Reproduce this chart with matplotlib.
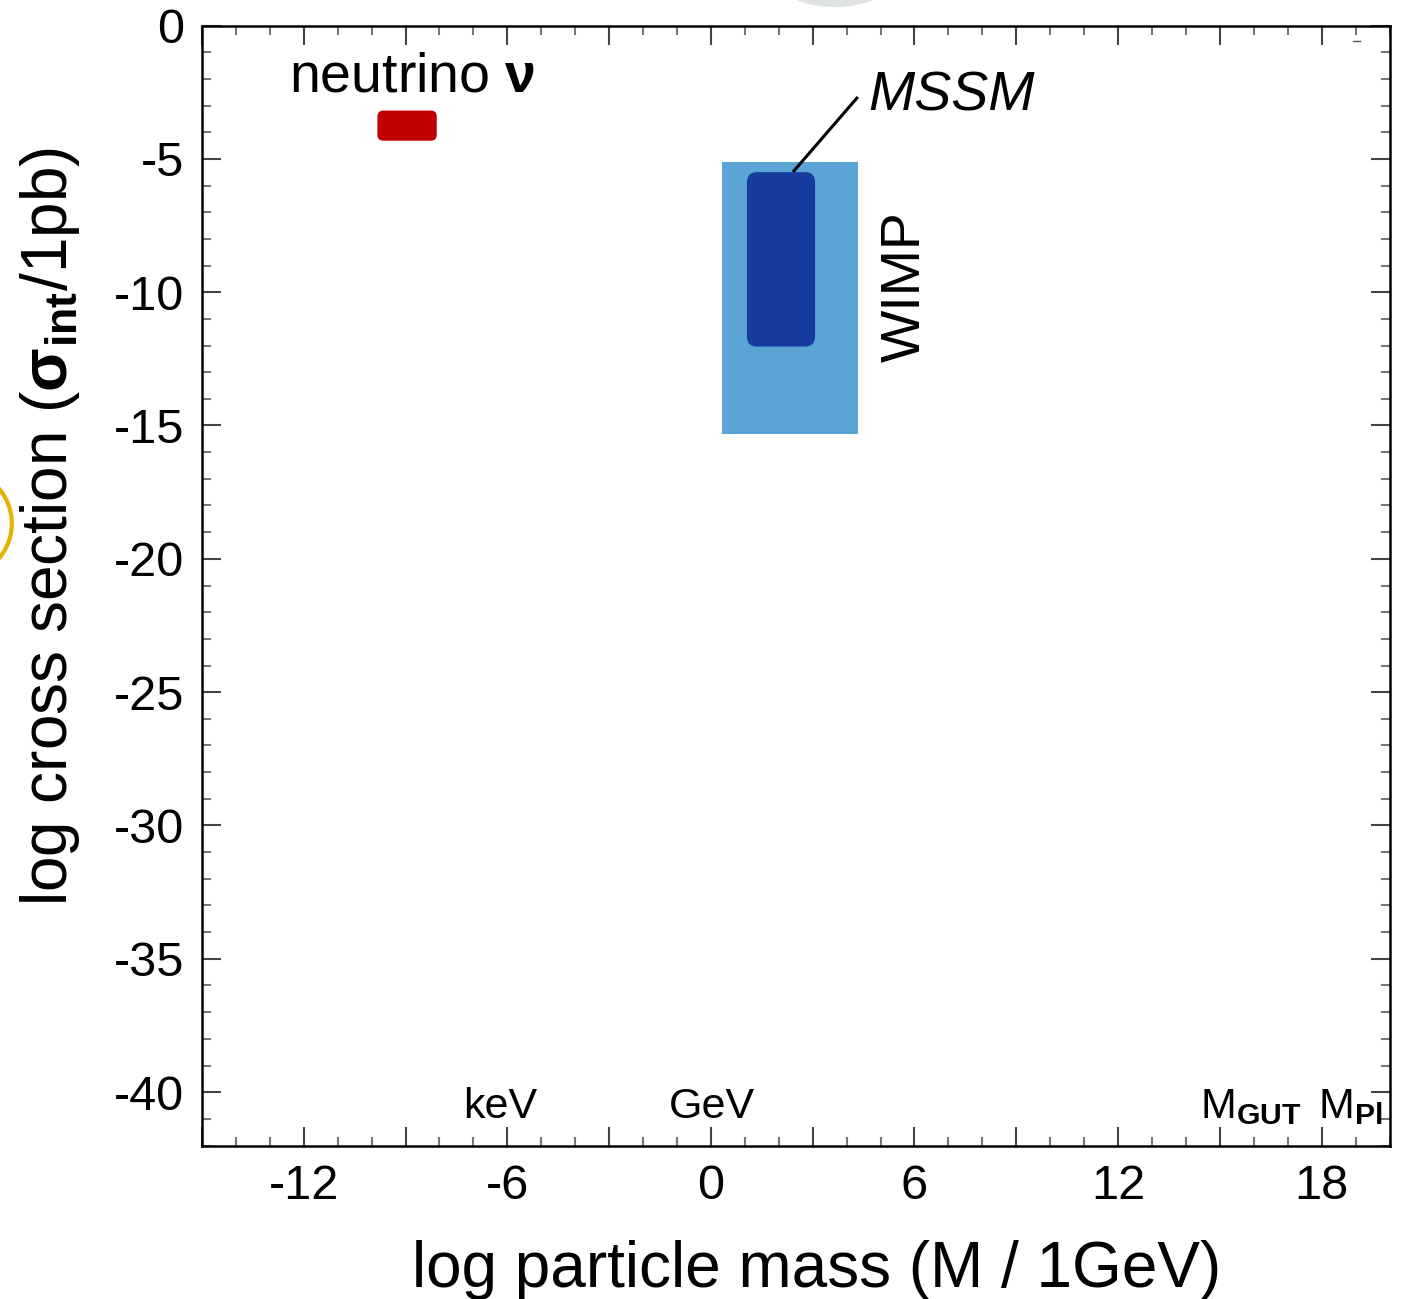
import matplotlib
matplotlib.use("Agg")
import matplotlib.pyplot as plt
from matplotlib.patches import FancyBboxPatch, Rectangle, Ellipse
from matplotlib.ticker import MultipleLocator, FuncFormatter
from matplotlib.lines import Line2D

plt.rcParams['font.family'] = ['Liberation Sans', 'DejaVu Sans']
plt.rcParams['mathtext.fontset'] = 'custom'
plt.rcParams['mathtext.rm'] = 'Liberation Sans'
plt.rcParams['mathtext.bf'] = 'Liberation Sans:bold'
plt.rcParams['mathtext.it'] = 'Liberation Sans:italic'
plt.rcParams['axes.unicode_minus'] = False

# ---- data (log10 mass / GeV, log10 cross section / pb) ----
regions = ['neutrino', 'WIMP', 'MSSM']
x_lo = [-9.83, 0.33, 1.06]
x_hi = [-8.08, 4.33, 3.07]
y_lo = [-4.32, -15.32, -12.04]
y_hi = [-3.19, -5.12, -5.50]
colors = ['#C00000', '#5BA4D6', '#173B9F']
rounded = [True, False, True]

mass_labels = ['keV', 'GeV', r'M$_{\mathbf{GUT}}$', r'M$_{\mathbf{Pl}}$']
mass_x = [-6.2, 0.03, 14.4, 17.9]
mass_ha = ['center', 'center', 'left', 'left']

W, H = 1401, 1299
fig = plt.figure(figsize=(W / 100, H / 100), dpi=100)
ax_l, ax_r, ax_t, ax_b = 202, 1389.5, 25.5, 1145.5
ax = fig.add_axes([ax_l / W, (H - ax_b) / H, (ax_r - ax_l) / W, (ax_b - ax_t) / H])
ax.set_xlim(-15, 20)
ax.set_ylim(-42, 0)

px_x = (ax_r - ax_l) / 35.0
px_y = (ax_b - ax_t) / 42.0
aspect = px_x / px_y

for name, x0, x1, y0, y1, c, rnd in zip(regions, x_lo, x_hi, y_lo, y_hi, colors, rounded):
    if rnd:
        r = 6 / px_x if name == 'neutrino' else 10 / px_x
        p = FancyBboxPatch((x0, y0), x1 - x0, y1 - y0,
                           boxstyle=f"round,pad=0,rounding_size={r}",
                           mutation_aspect=aspect, facecolor=c, edgecolor='none', zorder=3)
    else:
        p = Rectangle((x0, y0), x1 - x0, y1 - y0, facecolor=c, edgecolor='none', zorder=2)
    ax.add_patch(p)

# annotations
ax.text(-8.81, -2.49, r'neutrino $\mathbf{ν}$', fontsize=40, ha='center', va='baseline')
ax.text(4.63, -3.17, 'MSSM', fontsize=40, style='italic', ha='left', va='baseline')
ax.plot([2.42, 4.33], [-5.49, -2.68], color='black', lw=2.2, zorder=4, solid_capstyle='butt')
ax.text(5.75, -9.79, 'WIMP', fontsize=40, rotation=90, ha='center', va='center')

for lab, mx, ha in zip(mass_labels, mass_x, mass_ha):
    ax.text(mx, -40.97, lab, fontsize=31, ha=ha, va='baseline', clip_on=True)

# ticks
ax.xaxis.set_major_locator(MultipleLocator(3))
ax.xaxis.set_minor_locator(MultipleLocator(1))
ax.yaxis.set_major_locator(MultipleLocator(5))
ax.yaxis.set_minor_locator(MultipleLocator(1))
ax.xaxis.set_major_formatter(FuncFormatter(lambda v, p: f"{int(round(v))}" if int(round(v)) % 6 == 0 else ""))
ax.yaxis.set_major_formatter(FuncFormatter(lambda v, p: f"{int(round(v))}"))
ax.tick_params(which='both', direction='in', top=True, right=True)
ax.tick_params(which='major', length=13.5, width=1.5, color='#444444', labelsize=35, pad=13)
ax.tick_params(which='minor', length=6.5, width=1.5, color='#777777')
for s in ax.spines.values():
    s.set_linewidth(1.8)
    s.set_color('black')

# axis labels
ax.set_xlabel('log particle mass (M / 1GeV)', fontsize=46)
ax.xaxis.set_label_coords((412 - ax_l) / (ax_r - ax_l), (ax_b - 1286.7) / (ax_b - ax_t))
ax.xaxis.label.set_horizontalalignment('left')
ax.xaxis.label.set_verticalalignment('baseline')

ax.set_ylabel(r'log cross section ($\mathbf{σ_{int}}$/1pb)', fontsize=46)
ax.yaxis.set_label_coords((67 - ax_l) / (ax_r - ax_l), (ax_b - 906) / (ax_b - ax_t))
ax.yaxis.label.set_horizontalalignment('left')
ax.yaxis.label.set_verticalalignment('baseline')

# stray slide decorations at the edges
fig.add_artist(Ellipse((-42 / W, (H - 523.5) / H), 2 * 53.8 / W, 2 * 53.8 / H,
                       transform=fig.transFigure, facecolor='none', edgecolor='#E8B100', lw=3))
fig.add_artist(Ellipse((835 / W, (H + 18) / H), 110 / W, 50 / H,
                       transform=fig.transFigure, facecolor='#dfe4e1', edgecolor='none'))
fig.add_artist(Line2D([1353 / W, 1360 / W], [(H - 41) / H, (H - 41) / H],
                      transform=fig.transFigure, color='#555555', lw=1))

fig.savefig('out.png', dpi=100)
